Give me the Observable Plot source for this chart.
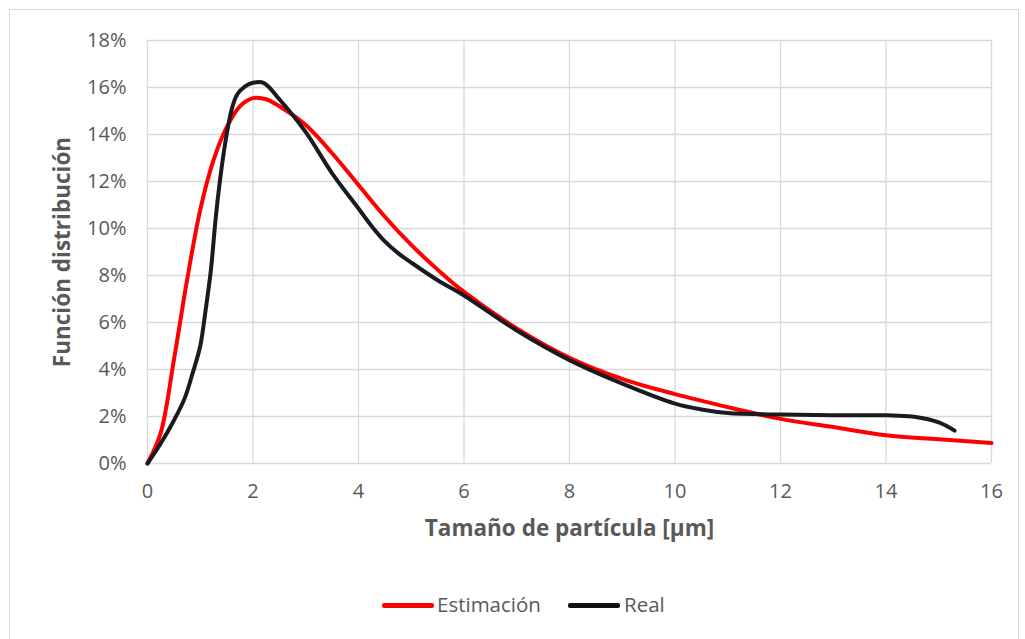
<!DOCTYPE html>
<html><head><meta charset="utf-8">
<script src="https://cdn.jsdelivr.net/npm/d3@7"></script>
<script src="https://cdn.jsdelivr.net/npm/@observablehq/plot@0.6"></script>
<style>
body{margin:0;background:#fff;font-family:"Open Sans",sans-serif;}
#frame{position:absolute;left:9px;top:9px;width:1008px;height:640px;border:1px solid #d9d9d9;}
#chart{position:absolute;left:0;top:0;}
#legend{position:absolute;left:0;top:590px;width:1025px;height:30px;font-size:20.5px;color:#595959;}
.sw{position:absolute;height:5px;top:13px;border-radius:2px;}
.lt{position:absolute;top:0px;}
</style></head>
<body>
<div id="frame"></div>
<div id="chart"></div>
<div id="legend">
  <div class="sw" style="left:382px;width:52px;background:#ff0000"></div><div class="lt" style="left:437px">Estimación</div>
  <div class="sw" style="left:568px;width:52px;background:#111"></div><div class="lt" style="left:624px">Real</div>
</div>
<script>
const estX = [0,0.25,0.5,0.75,1.0,1.25,1.5,1.75,2.0,2.25,2.5,3,3.5,4,4.5,5,5.5,6,7,8,9,10,11,12,13,14,15,16];
const estY = [0,1.3,4.4,7.8,10.8,12.9,14.3,15.2,15.55,15.5,15.2,14.4,13.2,11.85,10.5,9.3,8.25,7.3,5.75,4.5,3.6,2.95,2.4,1.9,1.55,1.2,1.03,0.87];
const realX = [0,0.25,0.5,0.7,0.85,1.0,1.1,1.2,1.3,1.4,1.5,1.6,1.7,1.85,2.0,2.2,2.5,3.0,3.5,4.0,4.25,4.5,4.75,5.0,5.5,6.0,7.0,8.0,9.0,10.0,10.5,11,12,13,14,14.5,15,15.3];
const realY = [0,0.85,1.83,2.75,3.8,5.0,6.5,8.2,10.6,12.5,14.0,15.1,15.7,16.05,16.2,16.2,15.5,14.1,12.35,10.85,10.1,9.45,8.95,8.55,7.8,7.15,5.66,4.4,3.4,2.55,2.3,2.15,2.08,2.05,2.05,2.0,1.75,1.4];
const xTicks = [0,2,4,6,8,10,12,14,16];
const yTicks = [0,2,4,6,8,10,12,14,16,18];

const est = estX.map((x,i)=>({x, y: estY[i]}));
const real = realX.map((x,i)=>({x, y: realY[i]}));

const chart = Plot.plot({
  width: 1025, height: 560,
  marginLeft: 147, marginRight: 34, marginTop: 40, marginBottom: 97,
  style: {fontFamily: "'Open Sans', sans-serif", fontSize: "20px", color: "#595959", background: "transparent"},
  x: {domain: [0,16]},
  y: {domain: [0,18]},
  marks: [
    Plot.ruleX(xTicks, {stroke: "#d9d9d9", strokeWidth: 1.3}),
    Plot.ruleY(yTicks, {stroke: "#d9d9d9", strokeWidth: 1.3}),
    Plot.axisX(xTicks, {tickSize: 0, tickPadding: 20, fontSize: 20, fill: "#595959", label: null}),
    Plot.axisY(yTicks, {tickSize: 0, tickPadding: 21, fontSize: 20, fill: "#595959", tickFormat: d => d + "%", label: null}),
    Plot.line(est, {x: "x", y: "y", stroke: "#ff0000", strokeWidth: 4, curve: "catmull-rom"}),
    Plot.line(real, {x: "x", y: "y", stroke: "#1a1a22", strokeWidth: 4, curve: "catmull-rom"}),
    Plot.text(["Tamaño de partícula [µm]"], {frameAnchor: "bottom", textAnchor: "middle", dy: 72, fontSize: 22.5, fontWeight: "bold", fill: "#595959"}),
    Plot.text(["Función distribución"], {frameAnchor: "left", textAnchor: "middle", dx: -85, rotate: -90, fontSize: 22.5, fontWeight: "bold", fill: "#595959"})
  ]
});
document.getElementById("chart").appendChild(chart);
</script>
</body></html>
